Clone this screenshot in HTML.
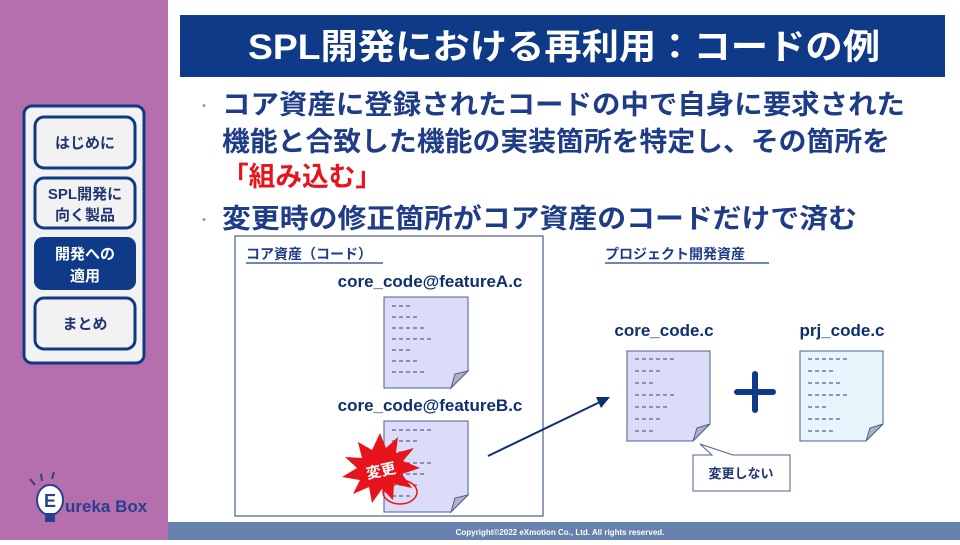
<!DOCTYPE html>
<html><head><meta charset="utf-8"><style>
body{margin:0;width:960px;height:540px;overflow:hidden;background:#fff}
svg text{font-family:"Liberation Sans","Noto Sans CJK JP",sans-serif;font-weight:bold}
</style></head><body>
<svg width="960" height="540" viewBox="0 0 960 540" xmlns="http://www.w3.org/2000/svg">
<rect x="0" y="0" width="168" height="540" fill="#b46fac"/>
<rect x="168" y="522" width="792" height="18" fill="#6681ad"/>
<text x="560" y="535" font-size="8" fill="#fff" text-anchor="middle">Copyright©2022 eXmotion Co., Ltd. All rights reserved.</text>
<rect x="180" y="15" width="765" height="62" fill="#0e3a87"/>
<text x="248" y="59" font-size="35" fill="#fff" textLength="632" lengthAdjust="spacingAndGlyphs">SPL開発における再利用：コードの例</text>
<!-- menu -->
<rect x="24" y="106" width="120" height="257" rx="8" fill="#f2f2f2" stroke="#0e3a87" stroke-width="3"/>
<rect x="35" y="117" width="100" height="51" rx="9" fill="#f2f2f2" stroke="#0e3a87" stroke-width="3"/>
<text x="85" y="148" font-size="15" fill="#1f3570" text-anchor="middle">はじめに</text>
<rect x="35" y="178" width="100" height="50" rx="9" fill="#f2f2f2" stroke="#0e3a87" stroke-width="3"/>
<text x="85" y="199" font-size="15" fill="#1f3570" text-anchor="middle">SPL開発に</text>
<text x="85" y="220" font-size="15" fill="#1f3570" text-anchor="middle">向く製品</text>
<rect x="34" y="237" width="102" height="53" rx="9" fill="#0e3a87"/>
<text x="85" y="259" font-size="15" fill="#fff" text-anchor="middle">開発への</text>
<text x="85" y="281" font-size="15" fill="#fff" text-anchor="middle">適用</text>
<rect x="35" y="298" width="100" height="51" rx="9" fill="#f2f2f2" stroke="#0e3a87" stroke-width="3"/>
<text x="85" y="329" font-size="15" fill="#1f3570" text-anchor="middle">まとめ</text>
<!-- logo -->
<ellipse cx="50" cy="500" rx="13" ry="15" fill="#fff" stroke="#2a3f8f" stroke-width="2"/>
<rect x="45" y="513" width="10" height="9" fill="#2a3f8f"/>
<text x="50" y="507" font-size="18" fill="#2a3f8f" text-anchor="middle">E</text>
<text x="65" y="512" font-size="17" fill="#2a3f8f">ureka Box</text>
<path d="M35 485 L30 479 M42 481 L41 474 M52 479 L54 472" stroke="#2a3f8f" stroke-width="2"/>
<!-- bullets -->
<g fill="#1f3c88" font-size="27">
<text x="198" y="110" font-size="12" fill="#999">・</text>
<text x="222" y="114" textLength="683" lengthAdjust="spacingAndGlyphs">コア資産に登録されたコードの中で自身に要求された</text>
<text x="222" y="151" textLength="668" lengthAdjust="spacingAndGlyphs">機能と合致した機能の実装箇所を特定し、その箇所を</text>
<text x="222" y="186" fill="#e8141b" textLength="160" lengthAdjust="spacingAndGlyphs">「組み込む」</text>
<text x="198" y="224" font-size="12" fill="#999">・</text>
<text x="222" y="228" textLength="635" lengthAdjust="spacingAndGlyphs">変更時の修正箇所がコア資産のコードだけで済む</text>
</g>
<!-- left box -->
<rect x="235" y="236" width="308" height="280" fill="#fff" stroke="#4a6090" stroke-width="1.2"/>
<text x="246" y="259" font-size="14" fill="#1f3c88">コア資産（コード）</text>
<line x1="246" y1="263" x2="383" y2="263" stroke="#1f3c88" stroke-width="1.2"/>
<text x="430" y="287" font-size="17" fill="#0e2f70" text-anchor="middle">core_code@featureA.c</text>
<text x="430" y="411" font-size="17" fill="#0e2f70" text-anchor="middle">core_code@featureB.c</text>
<g stroke="#4a6090" stroke-width="1">
<path d="M384 297 H468 V371 L451 388 H384 Z" fill="#dcdcf8"/>
<path d="M468 371 L451 388 L455 374 Z" fill="#b0b0c8"/>
<path d="M384 421 H468 V495 L451 512 H384 Z" fill="#dcdcf8"/>
<path d="M468 495 L451 512 L455 498 Z" fill="#b0b0c8"/>
<path d="M627 351 H710 V424 L693 441 H627 Z" fill="#dcdcf8"/>
<path d="M710 424 L693 441 L697 428 Z" fill="#b0b0c8"/>
<path d="M800 351 H883 V424 L866 441 H800 Z" fill="#e8f4fc"/>
<path d="M883 424 L866 441 L870 428 Z" fill="#b0b0c8"/>
</g>
<g stroke="#6a7aa0" stroke-width="1.6" stroke-dasharray="4,3">
<path d="M392 306h20M392 317h28M392 328h34M392 339h40M392 350h20M392 361h28M392 372h34"/>
<path d="M392 430h40M392 441h28M392 452h20M392 463h40M392 474h34M392 485h28M392 496h20"/>
<path d="M635 359h40M635 371h28M635 383h20M635 395h40M635 407h34M635 419h28M635 431h20"/>
<path d="M808 359h40M808 371h28M808 383h34M808 395h40M808 407h20M808 419h34M808 431h28"/>
</g>
<polygon points="380,433 386,448 398,437 396,453 414,448 403,461 420,468 402,474 412,488 394,484 393,500 382,489 372,503 369,487 353,494 360,480 342,477 357,468 345,457 362,458 358,442 372,450" fill="#e8141b"/>
<text x="381" y="476" font-size="15" fill="#fff" text-anchor="middle" transform="rotate(-12 381 471)">変更</text>
<ellipse cx="400" cy="492" rx="17" ry="12" fill="none" stroke="#e8141b" stroke-width="1.5"/>
<!-- arrow -->
<line x1="488" y1="456" x2="600" y2="402" stroke="#0e2f70" stroke-width="2"/>
<polygon points="610,397 596,397 601,408" fill="#0e2f70"/>
<text x="605" y="259" font-size="14" fill="#1f3c88">プロジェクト開発資産</text>
<line x1="605" y1="263" x2="769" y2="263" stroke="#1f3c88" stroke-width="1.2"/>
<text x="664" y="336" font-size="17" fill="#0e2f70" text-anchor="middle">core_code.c</text>
<text x="842" y="336" font-size="17" fill="#0e2f70" text-anchor="middle">prj_code.c</text>
<path d="M737 392h36M755 374v36" stroke="#0e3a87" stroke-width="6" stroke-linecap="round"/>
<path d="M693 455 H712 L700 444 L733 455 H790 V491 H693 Z" fill="#fff" stroke="#4a6090" stroke-width="1"/>
<text x="741" y="478" font-size="13" fill="#1f3570" text-anchor="middle">変更しない</text>
</svg>
</body></html>
